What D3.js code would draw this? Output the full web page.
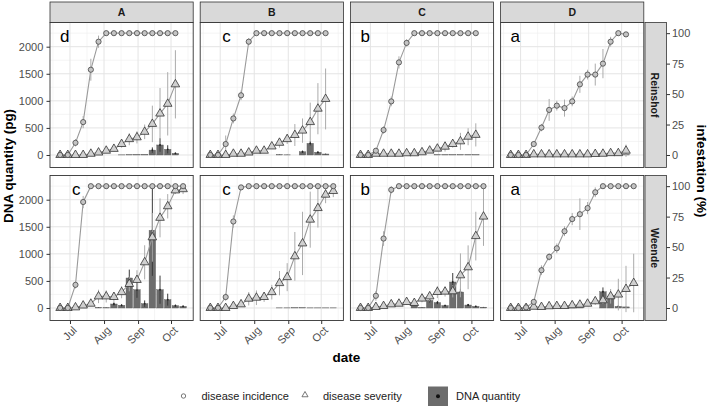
<!DOCTYPE html>
<html><head><meta charset="utf-8">
<script src="https://cdn.jsdelivr.net/npm/d3@7"></script>
<style>body{margin:0;background:#fff}svg{display:block}text{font-family:"Liberation Sans",Arial,sans-serif}</style>
</head><body><svg id="c" width="709" height="408"></svg>
<script>
// ---------- data ----------
const cultivars = ["A","B","C","D"];
const sites = ["Reinshof","Weende"];
const lettersReinshof = ["d","c","b","a"];
const lettersWeende = ["c","c","b","a"];
const datesReinshof = ["2019-06-22","2019-06-29","2019-07-06","2019-07-13","2019-07-20","2019-07-27","2019-08-03","2019-08-10","2019-08-17","2019-08-24","2019-08-31","2019-09-07","2019-09-14","2019-09-21","2019-09-28","2019-10-05"];
const datesWeende = ["2019-06-22","2019-06-29","2019-07-06","2019-07-13","2019-07-20","2019-07-27","2019-08-03","2019-08-10","2019-08-17","2019-08-24","2019-08-31","2019-09-07","2019-09-14","2019-09-21","2019-09-28","2019-10-05","2019-10-12"];
const monthTicks = ["2019-07-01","2019-08-01","2019-09-01","2019-10-01"];
const monthLabels = ["Jul","Aug","Sep","Oct"];
const dnaTicks = [0,500,1000,1500,2000];
const pctTicks = [0,25,50,75,100];
const pgPerPercent = 22.5;

// A Reinshof
const incA_R    = [0,0,10,27,70,93,100,100,100,100,100,100,100,100,100,100];
const incErrA_R = [0,0,3,5,9,5,0,0,0,0,0,0,0,0,0,0];
const sevA_R    = [0,0,0,0,1,2,3.5,5,9,13,14.5,19,25.5,34,42,58];
const sevErrA_R = [0,0,0,0,0.5,1,1,2,3,5,5,6,15,21,26,28];
const dnaA_R    = [0,0,0,0,0,0,0,0,3,5,8,10,90,185,105,30];
const dnaErrA_R = [0,0,0,0,0,0,0,0,0,0,0,0,50,125,75,15];
// A Weende
const incA_W    = [0,0,19,87,100,100,100,100,100,100,100,100,100,100,100,100,100];
const incErrA_W = [0,0,3,5,0,0,0,0,0,0,0,0,0,0,0,0,0];
const sevA_W    = [0,0,0.5,2,3.5,9.5,9.5,9,13,19.7,23,37.5,58,74,83.5,96.5,97.5];
const sevErrA_W = [0,0,0.5,1,2,5.5,5,4,5,6,8,14,20,16,10,3,4];
const dnaA_W    = [0,0,0,0,0,10,5,74,50,554,338,80,1434,338,154,43,31];
const dnaErrA_W = [0,0,0,0,0,5,3,30,20,155,150,60,840,260,110,20,15];
// B Reinshof
const incB_R    = [0,0,9,30,49,93,100,100,100,100,100,100,100,100,100,100];
const incErrB_R = [0,0,7,4,4,3,0,0,0,0,0,0,0,0,0,0];
const sevB_R    = [0,0,0,1,1,2,3.5,3.5,7,10,13,16.4,20,27,38,46];
const sevErrB_R = [0,0,0,0.5,0.5,1,1,1.5,2,4,4,9,10,16,21,25];
const dnaB_R    = [0,0,0,0,0,0,0,0,0,5,3,0,60,215,50,18];
const dnaErrB_R = [0,0,0,0,0,0,0,0,0,3,2,0,20,40,20,8];
// B Weende
const incB_W    = [0,0,9,71,99,100,100,100,100,100,100,100,100,100,100,100,100];
const incErrB_W = [0,0,3,5,1,0,0,0,0,0,0,0,0,0,0,0,0];
const sevB_W    = [0,0,0,1.6,3,7.6,8.4,9,13,20.4,25.3,42.4,53,72.5,82,93,96];
const sevErrB_W = [0,0,0,1,1.5,5.5,6,4,6,10,11.5,20,26,23,16,7,5];
const dnaB_W    = [0,0,0,0,0,0,0,0,0,3,3,5,5,3,3,3,3];
const dnaErrB_W = [0,0,0,0,0,0,0,0,0,0,0,0,0,0,0,0,0];
// C Reinshof
const incC_R    = [0,0,3.5,20.5,44,76,92,100,100,100,100,100,100,100,100,100];
const incErrC_R = [0,0,1,3,4,5,3,0,0,0,0,0,0,0,0,0];
const sevC_R    = [0,0,1,1,1,1,1.4,1.4,2.2,3.6,5.2,6.8,9,11.2,15,16.5];
const sevErrC_R = [0,0,0,0,0,0,0.5,0.5,1,1,2,4,3,7,7,9.5];
const dnaC_R    = [0,0,0,0,0,0,0,0,0,0,5,5,5,5,5,5];
const dnaErrC_R = [0,0,0,0,0,0,0,0,0,0,0,0,0,0,0,0];
// C Weende
const incC_W    = [0,0,10,57,97,100,100,100,100,100,100,100,100,100,100,100,100];
const incErrC_W = [0,0,4,6,3,0,0,0,0,0,0,0,0,0,0,0,0];
const sevC_W    = [0,0,0.8,1.6,3,3.5,4.9,4.1,7.7,9.5,13.1,13.4,13.7,26.8,33.4,59,75];
const sevErrC_W = [0,0,0,1,1,1.5,2,2,3,4,5,4,5,18,18,20,24];
const dnaC_W    = [0,0,0,0,0,0,0,67,10,140,100,45,480,295,55,30,15];
const dnaErrC_W = [0,0,0,0,0,0,0,20,5,40,30,15,166,60,20,10,5];
// D Reinshof
const incD_R    = [0,0,0,9,22.5,37,40.5,38.5,44,58,66,66,75,93,100,99];
const incErrD_R = [0,0,0,2,3,9,4,7,4,7,4,9,12,4,1,1];
const sevD_R    = [0,0,0,0.5,0.5,0.5,0.5,0.5,0.5,0.5,0.5,0.8,1,1.5,1.5,3.5];
const sevErrD_R = [0,0,0,0,0,0,0,0,0,0,0,0.5,0.5,1,1,5];
const dnaD_R    = [0,0,0,0,0,0,0,0,0,0,0,5,25,30,25,5];
const dnaErrD_R = [0,0,0,0,0,0,0,0,0,0,0,0,10,10,10,0];
// D Weende
const incD_W    = [0,0,0.5,5,31,42,49,63,73,77,82,95,100,100,100,100,100];
const incErrD_W = [0,0,0.5,2,4,3,4,4,5,13,5,4,0,0,0,0,0];
const sevD_W    = [0,0,0,1,0.8,1.4,1.6,1.6,2.2,2.7,3.5,5.5,6.3,9.6,11,15.6,20.5];
const sevErrD_W = [0,0,0,0.5,0.5,0.5,1,1,1,1.5,2,3,3,6,13,19,24];
const dnaD_W    = [0,0,0,0,0,0,0,10,8,10,0,0,300,220,30,20,0];
const dnaErrD_W = [0,0,0,0,0,0,0,0,0,0,0,0,80,60,10,5,0];

const panels = [
 {site:0,col:0,letter:lettersReinshof[0],dates:datesReinshof,inc:incA_R,incErr:incErrA_R,sev:sevA_R,sevErr:sevErrA_R,dna:dnaA_R,dnaErr:dnaErrA_R},
 {site:0,col:1,letter:lettersReinshof[1],dates:datesReinshof,inc:incB_R,incErr:incErrB_R,sev:sevB_R,sevErr:sevErrB_R,dna:dnaB_R,dnaErr:dnaErrB_R},
 {site:0,col:2,letter:lettersReinshof[2],dates:datesReinshof,inc:incC_R,incErr:incErrC_R,sev:sevC_R,sevErr:sevErrC_R,dna:dnaC_R,dnaErr:dnaErrC_R},
 {site:0,col:3,letter:lettersReinshof[3],dates:datesReinshof,inc:incD_R,incErr:incErrD_R,sev:sevD_R,sevErr:sevErrD_R,dna:dnaD_R,dnaErr:dnaErrD_R},
 {site:1,col:0,letter:lettersWeende[0],dates:datesWeende,inc:incA_W,incErr:incErrA_W,sev:sevA_W,sevErr:sevErrA_W,dna:dnaA_W,dnaErr:dnaErrA_W},
 {site:1,col:1,letter:lettersWeende[1],dates:datesWeende,inc:incB_W,incErr:incErrB_W,sev:sevB_W,sevErr:sevErrB_W,dna:dnaB_W,dnaErr:dnaErrB_W},
 {site:1,col:2,letter:lettersWeende[2],dates:datesWeende,inc:incC_W,incErr:incErrC_W,sev:sevC_W,sevErr:sevErrC_W,dna:dnaC_W,dnaErr:dnaErrC_W},
 {site:1,col:3,letter:lettersWeende[3],dates:datesWeende,inc:incD_W,incErr:incErrD_W,sev:sevD_W,sevErr:sevErrD_W,dna:dnaD_W,dnaErr:dnaErrD_W}
];

// ---------- layout ----------
const panelLeft = 50, panelW = 143.2, panelGap = 7, panelH = 145;
const rowTop = [22.5, 175.5], stripTop = 2;
const stripRightX = 645, stripRightW = 21.5;
const parse = d3.timeParse("%Y-%m-%d");
const svg = d3.select("#c");
svg.append("rect").attr("width",709).attr("height",408).attr("fill","#fff");

const x = d3.scaleTime().domain([new Date(2019,5,12,19), new Date(2019,9,21,5)]).range([0, panelW]);
const y = d3.scaleLinear().domain([-231, 2447]).range([panelH, 0]);
const yPct = d3.scaleLinear().domain([-231/pgPerPercent, 2447/pgPerPercent]).range([panelH, 0]);

const majorX = monthTicks.map(parse);
const stepMs = majorX[1]-majorX[0];
const minorX = [new Date(+majorX[0]-stepMs/2)].concat(majorX.map((d,i)=> i<majorX.length-1 ? new Date((+d + +majorX[i+1])/2) : new Date(+d + stepMs/2)));
const minorY = dnaTicks.map(v=>v+250);

const defs = svg.append("defs");

// top strips
cultivars.forEach((c,ci)=>{
  const gx = panelLeft + ci*(panelW+panelGap);
  svg.append("rect").attr("x",gx).attr("y",stripTop).attr("width",panelW).attr("height",rowTop[0]-stripTop)
    .attr("fill","#d9d9d9").attr("stroke","#333").attr("stroke-width",0.8);
  svg.append("text").attr("x",gx+panelW/2).attr("y",16.2).attr("text-anchor","middle")
    .attr("font-size",10.5).attr("font-weight","bold").attr("fill","#1a1a1a").text(c);
});
// right strips + axes
sites.forEach((s,si)=>{
  const y0 = rowTop[si];
  svg.append("rect").attr("x",stripRightX).attr("y",y0).attr("width",stripRightW).attr("height",panelH)
    .attr("fill","#d9d9d9").attr("stroke","#333").attr("stroke-width",0.8);
  svg.append("text").attr("transform",`translate(650.5,${y0+panelH/2}) rotate(90)`).attr("text-anchor","middle")
    .attr("font-size",10.5).attr("font-weight","bold").attr("fill","#1a1a1a").text(s);
  // left axis
  const gl = svg.append("g").attr("transform",`translate(${panelLeft},${y0})`)
    .call(d3.axisLeft(y).tickValues(dnaTicks).tickFormat(d3.format("d")).tickSize(3.5).tickPadding(3.2));
  gl.select(".domain").remove();
  gl.selectAll("line").attr("stroke","#333");
  gl.selectAll("text").attr("font-size",11).attr("fill","#4d4d4d").attr("font-family",null);
  // right axis
  const gr = svg.append("g").attr("transform",`translate(${stripRightX+stripRightW},${y0})`)
    .call(d3.axisRight(yPct).tickValues(pctTicks).tickFormat(d3.format("d")).tickSize(3.5).tickPadding(2));
  gr.select(".domain").remove();
  gr.selectAll("line").attr("stroke","#333");
  gr.selectAll("text").attr("font-size",11).attr("fill","#4d4d4d").attr("font-family",null);
});

const line = d3.line().x(d=>x(d.date)).y(d=>y(d.v));
const tri = d3.symbol(d3.symbolTriangle, 32);

panels.forEach((p,pi)=>{
  const px = panelLeft + p.col*(panelW+panelGap), py = rowTop[p.site];
  const g = svg.append("g").attr("transform",`translate(${px},${py})`);
  defs.append("clipPath").attr("id","clip"+pi).append("rect").attr("width",panelW).attr("height",panelH);
  g.append("rect").attr("width",panelW).attr("height",panelH).attr("fill","#fff");
  const gc = g.append("g").attr("clip-path",`url(#clip${pi})`);
  // grid
  minorY.forEach(v=>gc.append("line").attr("x1",0).attr("x2",panelW).attr("y1",y(v)).attr("y2",y(v)).attr("stroke","#efefef").attr("stroke-width",0.6));
  minorX.forEach(d=>gc.append("line").attr("y1",0).attr("y2",panelH).attr("x1",x(d)).attr("x2",x(d)).attr("stroke","#efefef").attr("stroke-width",0.6));
  dnaTicks.forEach(v=>gc.append("line").attr("x1",0).attr("x2",panelW).attr("y1",y(v)).attr("y2",y(v)).attr("stroke","#e4e4e4").attr("stroke-width",1));
  majorX.forEach(d=>gc.append("line").attr("y1",0).attr("y2",panelH).attr("x1",x(d)).attr("x2",x(d)).attr("stroke","#e4e4e4").attr("stroke-width",1));

  const dates = p.dates.map(parse);
  const inc = dates.map((d,i)=>({date:d, v:p.inc[i]*pgPerPercent, e:p.incErr[i]*pgPerPercent}));
  const sev = dates.map((d,i)=>({date:d, v:p.sev[i]*pgPerPercent, e:p.sevErr[i]*pgPerPercent}));
  const dna = dates.map((d,i)=>({date:d, v:p.dna[i], e:p.dnaErr[i]}));
  const bw = 6.5;
  // bars
  gc.selectAll("rect.bar").data(dna.filter(d=>d.v>0)).join("rect").attr("class","bar")
    .attr("x",d=>x(d.date)-bw/2).attr("width",bw).attr("y",d=>y(d.v)).attr("height",d=>y(0)-y(d.v))
    .attr("fill","#6c6c6c").attr("stroke","#5a5a5a").attr("stroke-width",0.4);
  gc.selectAll("line.dnaerr").data(dna.filter(d=>d.e>0)).join("line").attr("class","dnaerr")
    .attr("x1",d=>x(d.date)).attr("x2",d=>x(d.date)).attr("y1",d=>y(d.v-d.e)).attr("y2",d=>y(d.v+d.e))
    .attr("stroke","#3a3a3a").attr("stroke-width",1);
  gc.selectAll("circle.dnapt").data(dna.filter(d=>d.v>20)).join("circle").attr("class","dnapt")
    .attr("cx",d=>x(d.date)).attr("cy",d=>y(d.v)).attr("r",0.9).attr("fill","#222");
  // lines
  [inc, sev].forEach(s=>gc.append("path").datum(s).attr("d",line).attr("fill","none").attr("stroke","#9a9a9a").attr("stroke-width",1.1));
  // error bars
  [inc, sev].forEach(s=>gc.selectAll(null).data(s.filter(d=>d.e>0)).join("line")
    .attr("x1",d=>x(d.date)).attr("x2",d=>x(d.date)).attr("y1",d=>y(d.v-d.e)).attr("y2",d=>y(d.v+d.e))
    .attr("stroke","#ababab").attr("stroke-width",1));
  // points
  gc.selectAll("path.tri").data(sev).join("path").attr("class","tri").attr("d",tri)
    .attr("transform",d=>`translate(${x(d.date)},${y(d.v)})`).attr("fill","#d0d0d0").attr("stroke","#333").attr("stroke-width",0.8);
  gc.selectAll("circle.inc").data(inc).join("circle").attr("class","inc")
    .attr("cx",d=>x(d.date)).attr("cy",d=>y(d.v)).attr("r",2.6).attr("fill","#c4c4c4").attr("stroke","#444").attr("stroke-width",0.8);
  // letter
  g.append("text").attr("x", p.letter==="c" ? 22 : 10).attr("y",19.3).attr("font-size",17).attr("fill","#000").text(p.letter);
  // border
  g.append("rect").attr("width",panelW).attr("height",panelH).attr("fill","none").attr("stroke","#333").attr("stroke-width",0.9);
  // bottom axis
  if (p.site===1){
    const gb = g.append("g").attr("transform",`translate(0,${panelH})`)
      .call(d3.axisBottom(x).tickValues(majorX).tickSize(3.5).tickFormat((d,i)=>monthLabels[i]));
    gb.select(".domain").remove();
    gb.selectAll("line").attr("stroke","#333");
    gb.selectAll("text").attr("font-size",11).attr("fill","#4d4d4d").attr("font-family",null)
      .attr("x",0).attr("y",0).attr("dy",null).attr("text-anchor","end").attr("transform","translate(7,10.5) rotate(-45)");
  }
});

// titles
svg.append("text").attr("transform","translate(12.5,166) rotate(-90)").attr("text-anchor","middle")
  .attr("font-size",13.5).attr("font-weight","bold").attr("fill","#000").text("DNA quantity (pg)");
svg.append("text").attr("transform","translate(697,171) rotate(90)").attr("text-anchor","middle")
  .attr("font-size",13.5).attr("font-weight","bold").attr("fill","#000").text("infestation (%)");
svg.append("text").attr("x",346.5).attr("y",362).attr("text-anchor","middle")
  .attr("font-size",13.5).attr("font-weight","bold").attr("fill","#000").text("date");

// legend
const lg = svg.append("g");
lg.append("circle").attr("cx",183.5).attr("cy",396).attr("r",2.2).attr("fill","#fff").attr("stroke","#555").attr("stroke-width",0.8);
lg.append("text").attr("x",201.5).attr("y",400).attr("font-size",11).attr("fill","#222").text("disease incidence");
lg.append("path").attr("d",d3.symbol(d3.symbolTriangle,16)).attr("transform","translate(305,395)").attr("fill","#fff").attr("stroke","#555").attr("stroke-width",0.8);
lg.append("text").attr("x",323).attr("y",400).attr("font-size",11).attr("fill","#222").text("disease severity");
lg.append("rect").attr("x",428).attr("y",386.5).attr("width",20).attr("height",19.5).attr("fill","#6c6c6c");
lg.append("circle").attr("cx",438).attr("cy",396.2).attr("r",2).attr("fill","#111");
lg.append("text").attr("x",456).attr("y",400).attr("font-size",11).attr("fill","#222").text("DNA quantity");
</script>
</body></html>
